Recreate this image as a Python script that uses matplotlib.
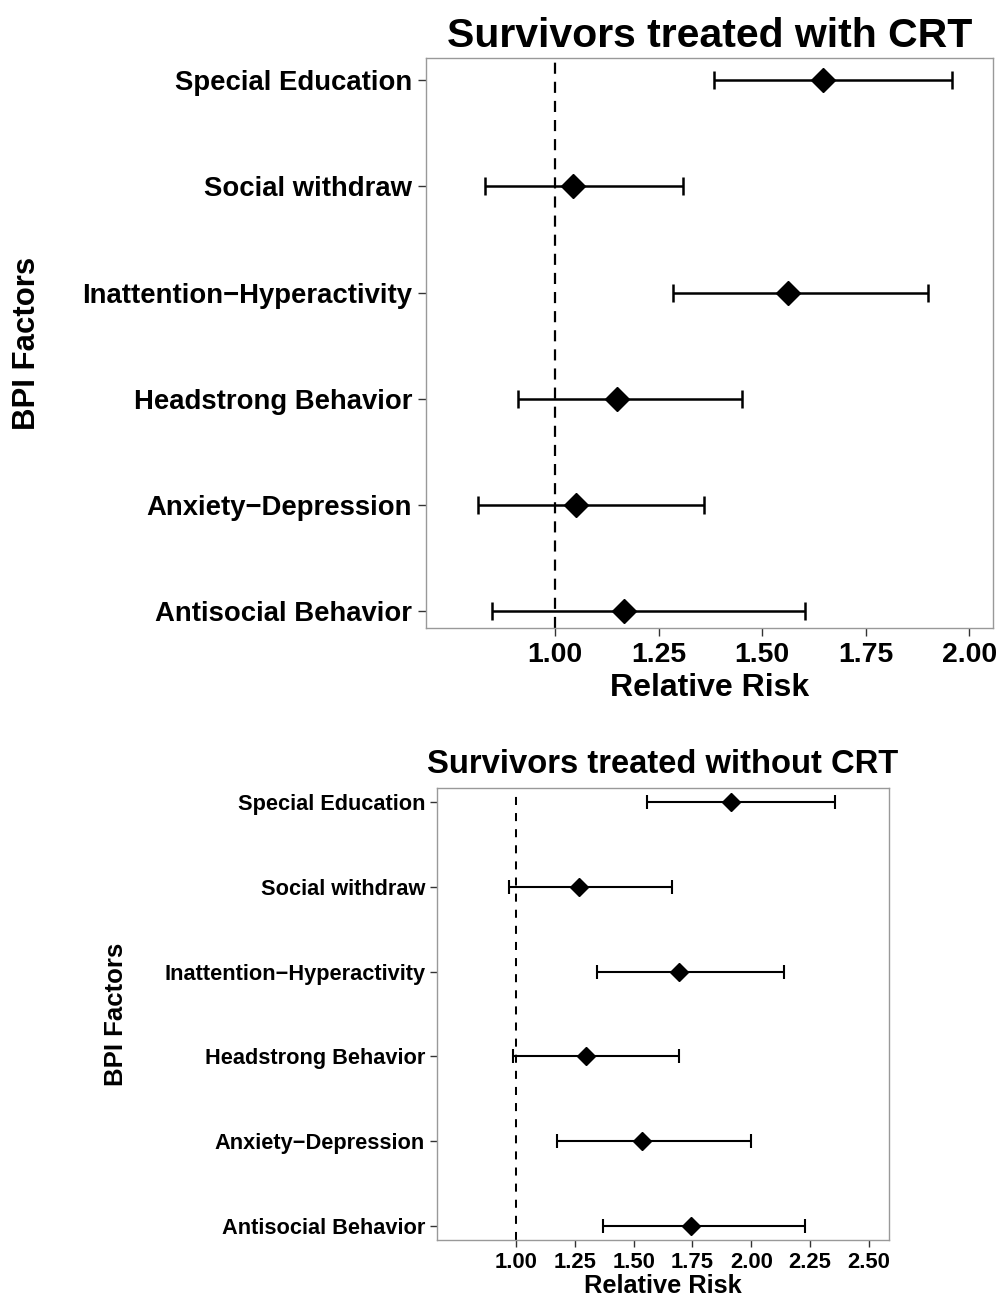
import matplotlib
matplotlib.use("Agg")
import matplotlib.pyplot as plt

plt.rcParams['font.family'] = ['Liberation Sans', 'DejaVu Sans']

factors = ["Special Education", "Social withdraw", "Inattention\u2212Hyperactivity",
           "Headstrong Behavior", "Anxiety\u2212Depression", "Antisocial Behavior"]

crt_rr = [1.646, 1.043, 1.562, 1.150, 1.051, 1.166]
crt_lo = [1.384, 0.831, 1.285, 0.911, 0.814, 0.848]
crt_hi = [1.957, 1.309, 1.900, 1.451, 1.359, 1.603]

nocrt_rr = [1.914, 1.268, 1.693, 1.298, 1.536, 1.744]
nocrt_lo = [1.557, 0.970, 1.344, 0.987, 1.174, 1.370]
nocrt_hi = [2.356, 1.663, 2.139, 1.693, 1.999, 2.229]

crt_ticks = [1.00, 1.25, 1.50, 1.75, 2.00]
nocrt_ticks = [1.00, 1.25, 1.50, 1.75, 2.00, 2.25, 2.50]

W, H = 1000, 1299
fig = plt.figure(figsize=(W / 100, H / 100), dpi=100)


def panel(rect, rr, lo, hi, ticks, xlim, ylim, title, st):
    ax = fig.add_axes(rect)
    y = list(range(len(factors)))[::-1]
    xerr = [[r - l for r, l in zip(rr, lo)], [h - r for r, h in zip(rr, hi)]]
    ax.axvline(1.0, color='black', linestyle=(0, st['dash']), linewidth=st['vlw'], zorder=1)
    ax.errorbar(rr, y, xerr=xerr, fmt='D', color='black', markersize=st['ms'],
                elinewidth=st['elw'], capsize=st['cap'], capthick=st['elw'], zorder=3)
    ax.set_xlim(*xlim)
    ax.set_ylim(*ylim)
    ax.set_yticks(y)
    ax.set_yticklabels(factors, fontsize=st['ytick'], fontweight='bold')
    ax.set_xticks(ticks)
    ax.set_xticklabels([f"{t:.2f}" for t in ticks], fontsize=st['xtick'], fontweight='bold')
    ax.tick_params(axis='both', length=st['tl'], width=1.0, color='#333333', pad=st['tpad'])
    for sp in ax.spines.values():
        sp.set_color('#999999')
        sp.set_linewidth(1.0)
    ax.set_xlabel("Relative Risk", fontsize=st['xlab'], fontweight='bold', labelpad=st['xlpad'])
    ax.set_ylabel("BPI Factors", fontsize=st['ylab'], fontweight='bold')
    ax.set_title(title, fontsize=st['title'], fontweight='bold', pad=st['tipad'])
    return ax


top_style = dict(dash=(5, 3.6), vlw=1.6, ms=12, elw=1.8, cap=6.5, ytick=19.8, xtick=20.4,
                 xlab=23, ylab=22.4, title=29.5, tl=6, tpad=4, xlpad=4, tipad=8)
bot_style = dict(dash=(4, 4), vlw=1.45, ms=9.5, elw=1.5, cap=4.8, ytick=15.7, xtick=15.8,
                 xlab=18.3, ylab=18.5, title=23.6, tl=5, tpad=3.5, xlpad=0.8, tipad=11)

ax1 = panel([426 / W, 1 - 628 / H, (993 - 426) / W, (628 - 58) / H],
            crt_rr, crt_lo, crt_hi, crt_ticks, (0.689, 2.057), (-0.16, 5.21),
            "Survivors treated with CRT", top_style)
ax1.yaxis.set_label_coords((42 - 426) / 567, 0.5)

ax2 = panel([437 / W, 1 - 1240 / H, (889 - 437) / W, (1240 - 788) / H],
            nocrt_rr, nocrt_lo, nocrt_hi, nocrt_ticks, (0.664, 2.586), (-0.165, 5.165),
            "Survivors treated without CRT", bot_style)
ax2.yaxis.set_label_coords((128 - 437) / 452, 0.5)

fig.savefig("out.png", dpi=100)
